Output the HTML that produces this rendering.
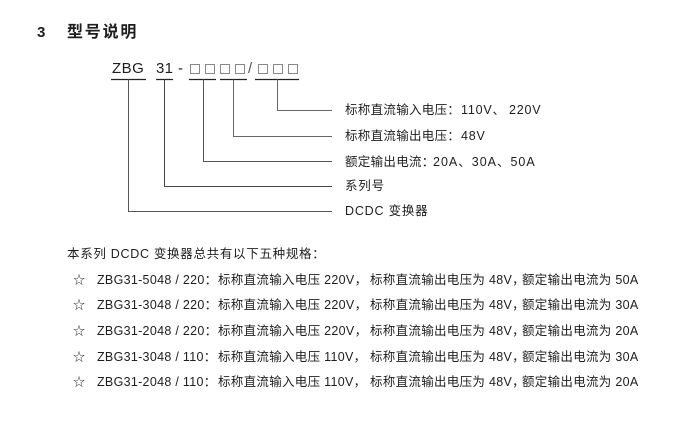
<!DOCTYPE html>
<html>
<head>
<meta charset="utf-8">
<style>
  html,body{margin:0;padding:0;background:#fff;}
  body{width:688px;height:430px;position:relative;overflow:hidden;
       font-family:"Liberation Sans","Noto Sans CJK SC",sans-serif;color:#1e1e1e;}
  .t{position:absolute;white-space:nowrap;line-height:16px;font-size:12.5px;letter-spacing:0.3px;}
  .s{position:absolute;white-space:nowrap;line-height:16px;font-size:12px;letter-spacing:0;}
  svg{position:absolute;left:0;top:0;}
</style>
</head>
<body>
<svg width="688" height="430" viewBox="0 0 688 430">
  <g stroke="#222" stroke-width="1.2">
    <line x1="111" y1="79.5" x2="146" y2="79.5"/>
    <line x1="156" y1="79.5" x2="173" y2="79.5"/>
    <line x1="189" y1="79.5" x2="216" y2="79.5"/>
    <line x1="220" y1="79.5" x2="247" y2="79.5"/>
    <line x1="255" y1="79.5" x2="299" y2="79.5"/>
  </g>
  <g fill="none" stroke-width="1">
    <polyline stroke="#666" points="277.5,79.5 277.5,110.5 332,110.5"/>
    <polyline stroke="#666" points="233.5,79.5 233.5,136.5 332,136.5"/>
    <polyline stroke="#555" points="203.5,79.5 203.5,161.5 332,161.5"/>
    <polyline stroke="#444" points="164.5,79.5 164.5,186.5 332,186.5"/>
    <polyline stroke="#555" points="128.5,79.5 128.5,211.5 332,211.5"/>
  </g>
  <g fill="none" stroke="#888" stroke-width="1">
    <rect x="190.5" y="64.5" width="9" height="9"/>
    <rect x="205.5" y="64.5" width="9" height="9"/>
    <rect x="220.5" y="64.5" width="9" height="9"/>
    <rect x="235.5" y="64.5" width="9" height="9"/>
    <rect x="258.5" y="64.5" width="9" height="9"/>
    <rect x="273.5" y="64.5" width="9" height="9"/>
    <rect x="288.5" y="64.5" width="9" height="9"/>
  </g>
</svg>

<!-- title -->
<div class="t" style="left:37px;top:23px;line-height:20px;font-size:15px;font-weight:bold;letter-spacing:0;">3</div>
<div class="t" style="left:67px;top:23px;line-height:20px;font-size:16px;font-weight:bold;letter-spacing:1.8px;">型号说明</div>

<!-- model header -->
<div class="t" style="left:112px;top:60px;line-height:18px;font-size:15px;letter-spacing:0.5px;">ZBG</div>
<div class="t" style="left:156px;top:60px;line-height:18px;font-size:15px;letter-spacing:0.3px;">31</div>
<div class="t" style="left:178px;top:60px;line-height:18px;font-size:15px;">-</div>
<div class="t" style="left:248px;top:60px;line-height:18px;font-size:15px;color:#555;">/</div>

<!-- labels -->
<div class="t" style="left:345px;top:102px;">标称直流输入电压：</div>
<div class="t" style="left:461px;top:102px;letter-spacing:0.8px;">110V、</div>
<div class="t" style="left:509px;top:102px;letter-spacing:0.8px;">220V</div>
<div class="t" style="left:345px;top:128px;">标称直流输出电压：</div>
<div class="t" style="left:461px;top:128px;letter-spacing:0.8px;">48V</div>
<div class="t" style="left:345px;top:154px;">额定输出电流：</div>
<div class="t" style="left:433px;top:154px;letter-spacing:1px;">20A、30A、50A</div>
<div class="t" style="left:345px;top:178px;letter-spacing:0.8px;">系列号</div>
<div class="t" style="left:345px;top:203px;letter-spacing:0.8px;">DCDC 变换器</div>

<!-- intro -->
<div class="t" style="left:67px;top:246px;letter-spacing:0.7px;">本系列 DCDC 变换器总共有以下五种规格：</div>

<!-- list -->
<div class="s" style="left:73px;top:272px;">☆</div>
<div class="t" style="left:97px;top:272px;">ZBG31-5048 / 220：</div>
<div class="t" style="left:218px;top:272px;">标称直流输入电压 220V，</div>
<div class="t" style="left:370px;top:272px;">标称直流输出电压为 48V，</div>
<div class="t" style="left:522px;top:272px;">额定输出电流为 50A</div>

<div class="s" style="left:73px;top:297px;">☆</div>
<div class="t" style="left:97px;top:297px;">ZBG31-3048 / 220：</div>
<div class="t" style="left:218px;top:297px;">标称直流输入电压 220V，</div>
<div class="t" style="left:370px;top:297px;">标称直流输出电压为 48V，</div>
<div class="t" style="left:522px;top:297px;">额定输出电流为 30A</div>

<div class="s" style="left:73px;top:323px;">☆</div>
<div class="t" style="left:97px;top:323px;">ZBG31-2048 / 220：</div>
<div class="t" style="left:218px;top:323px;">标称直流输入电压 220V，</div>
<div class="t" style="left:370px;top:323px;">标称直流输出电压为 48V，</div>
<div class="t" style="left:522px;top:323px;">额定输出电流为 20A</div>

<div class="s" style="left:73px;top:349px;">☆</div>
<div class="t" style="left:97px;top:349px;">ZBG31-3048 / 110：</div>
<div class="t" style="left:218px;top:349px;">标称直流输入电压 110V，</div>
<div class="t" style="left:370px;top:349px;">标称直流输出电压为 48V，</div>
<div class="t" style="left:522px;top:349px;">额定输出电流为 30A</div>

<div class="s" style="left:73px;top:374px;">☆</div>
<div class="t" style="left:97px;top:374px;">ZBG31-2048 / 110：</div>
<div class="t" style="left:218px;top:374px;">标称直流输入电压 110V，</div>
<div class="t" style="left:370px;top:374px;">标称直流输出电压为 48V，</div>
<div class="t" style="left:522px;top:374px;">额定输出电流为 20A</div>
</body>
</html>
